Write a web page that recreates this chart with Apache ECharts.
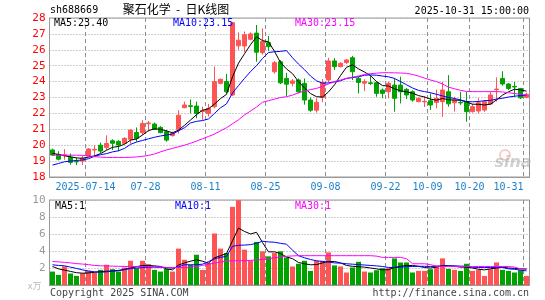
<!DOCTYPE html>
<html><head><meta charset="utf-8">
<script src="https://cdn.jsdelivr.net/npm/echarts@6/dist/echarts.min.js"></script>
<style>html,body{margin:0;padding:0;background:#fff}#c{width:545px;height:300px}</style>
</head><body><div id="c"></div>
<script>
const dates = ['2025-07-04','2025-07-07','2025-07-08','2025-07-09','2025-07-10','2025-07-11','2025-07-14','2025-07-15','2025-07-16','2025-07-17','2025-07-18','2025-07-21','2025-07-22','2025-07-23','2025-07-24','2025-07-25','2025-07-28','2025-07-29','2025-07-30','2025-07-31',
'2025-08-01','2025-08-04','2025-08-05','2025-08-06','2025-08-07','2025-08-08','2025-08-11','2025-08-12','2025-08-13','2025-08-14','2025-08-15','2025-08-18','2025-08-19','2025-08-20','2025-08-21','2025-08-22','2025-08-25','2025-08-26','2025-08-27','2025-08-28','2025-08-29',
'2025-09-01','2025-09-02','2025-09-03','2025-09-04','2025-09-05','2025-09-08','2025-09-09','2025-09-10','2025-09-11','2025-09-12','2025-09-15','2025-09-16','2025-09-17','2025-09-18','2025-09-19','2025-09-22','2025-09-23','2025-09-24','2025-09-25','2025-09-26','2025-09-29','2025-09-30',
'2025-10-09','2025-10-10','2025-10-13','2025-10-14','2025-10-15','2025-10-16','2025-10-17','2025-10-20','2025-10-21','2025-10-22','2025-10-23','2025-10-24','2025-10-27','2025-10-28','2025-10-29','2025-10-30','2025-10-31'];

const opens = [19.70,19.42,19.35,19.23,18.98,19.00,19.32,19.70,20.00,19.86,
20.28,20.24,20.11,20.37,20.80,20.79,21.35,21.33,21.12,20.85,
20.60,21.00,22.36,22.48,22.46,22.12,22.00,22.42,23.89,24.00,
23.16,26.25,26.24,26.66,27.05,25.82,26.45,24.62,25.25,24.20,
23.89,24.10,23.89,22.84,22.20,23.00,24.10,25.30,24.94,25.20,
25.50,24.20,23.90,23.92,23.93,23.47,23.36,23.78,23.78,23.51,
23.36,22.74,22.72,22.80,22.69,22.74,23.36,22.67,22.69,22.74,
22.11,22.15,22.21,22.59,23.49,24.20,23.85,23.70,23.57,23.01];

const closes = [19.38,19.12,19.40,18.92,18.95,19.17,19.76,19.74,19.63,20.11,
20.12,20.01,20.43,20.95,20.43,21.37,21.40,21.00,20.79,20.32,
20.75,21.88,22.53,22.44,22.00,22.18,22.32,24.00,24.14,23.36,
27.70,26.60,26.95,27.00,25.85,26.52,26.20,25.19,23.92,23.84,
24.04,23.36,22.84,22.20,22.70,23.95,25.30,24.94,25.15,25.36,
24.62,23.95,24.00,23.88,23.26,23.26,23.89,22.95,23.36,23.16,
22.84,22.95,22.76,22.53,22.95,23.47,22.60,22.84,22.66,22.11,
22.42,22.67,22.74,23.16,23.53,23.85,23.57,23.66,22.98,23.20];

const lows = [19.32,19.05,19.08,18.78,18.75,18.75,19.28,19.32,19.49,19.70,
19.70,19.62,20.07,20.10,20.22,20.64,20.85,20.95,20.75,20.22,
20.55,20.74,22.32,22.00,21.69,21.60,21.80,22.32,23.83,23.26,
23.10,26.00,25.85,26.60,25.25,25.70,25.92,24.50,23.85,23.10,
23.70,23.26,22.55,22.10,22.05,22.70,23.95,24.73,24.90,25.10,
24.10,23.26,23.40,23.78,23.05,22.95,22.95,22.11,22.63,22.90,
22.74,22.70,22.40,22.21,22.32,21.79,22.42,22.11,22.53,21.48,
22.05,22.00,22.10,22.53,22.74,23.74,23.47,23.05,22.90,22.95];

const highs = [19.78,19.62,19.75,19.48,19.22,19.32,19.82,20.00,20.16,20.62,
20.37,20.32,20.50,21.00,21.12,21.58,21.52,21.42,21.20,20.95,
20.85,22.20,22.74,22.88,22.74,22.42,22.60,24.94,24.20,24.48,
27.75,27.10,27.15,27.10,27.56,27.35,26.87,25.30,25.35,24.55,
24.16,24.20,24.20,23.00,22.95,24.16,25.50,25.48,25.22,25.42,
25.62,24.31,24.15,24.40,24.00,23.57,24.00,24.20,24.31,23.60,
23.45,23.00,23.10,23.26,23.50,23.98,24.41,23.05,23.36,23.36,
22.60,22.95,22.85,23.36,24.27,24.65,23.90,23.98,23.60,23.30];

const volumes = [1.58,1.19,2.20,1.35,1.07,1.39,1.66,1.47,1.78,2.38,
1.86,1.58,2.06,2.85,1.98,2.85,2.46,1.78,1.58,1.90,
1.58,4.28,2.97,2.38,3.56,1.78,2.60,6.06,4.28,3.76,
9.19,9.98,4.16,2.89,5.07,3.96,3.37,3.76,3.96,3.25,
2.18,2.50,2.85,1.66,2.85,2.85,3.84,2.30,2.18,1.47,
2.06,2.73,1.58,1.47,1.74,1.98,1.98,3.13,2.65,2.65,
1.47,1.66,1.66,1.86,2.30,3.13,1.90,1.78,1.66,2.50,
1.66,1.78,1.07,1.86,2.65,1.78,1.66,1.47,1.74,1.07];

const ma5 = [19.49,19.42,19.33,19.27,19.20,19.18,19.25,19.33,19.47,19.68,
19.87,19.92,20.06,20.32,20.39,20.64,20.92,21.03,21.00,20.90,
20.78,20.95,21.25,21.58,21.92,22.20,22.29,22.59,22.93,23.20,
24.30,25.16,25.75,26.32,26.82,26.58,26.50,25.90,25.20,24.80,
24.50,24.00,23.60,23.25,23.05,23.03,23.35,23.80,24.38,24.90,
25.05,24.80,24.60,24.38,24.00,23.75,23.72,23.55,23.42,23.36,
23.27,23.12,23.03,22.90,22.83,22.94,22.86,22.84,22.82,22.72,
22.58,22.57,22.53,22.58,22.85,23.15,23.36,23.52,23.48,23.40];

const ma10 = [18.75,18.85,18.96,19.00,19.04,19.07,19.15,19.30,19.40,19.47,
19.58,19.65,19.80,20.05,20.20,20.30,20.40,20.50,20.58,20.64,
20.70,20.90,21.10,21.40,21.50,21.55,21.65,22.00,22.35,22.60,
23.28,23.75,24.20,24.63,25.00,25.45,25.83,25.88,25.90,25.95,
25.50,25.10,24.75,24.35,24.05,23.90,23.92,23.98,24.05,24.20,
24.25,24.30,24.40,24.42,24.40,24.35,24.30,24.20,24.00,23.80,
23.60,23.45,23.37,23.30,23.20,23.10,23.00,22.94,22.85,22.75,
22.73,22.75,22.80,22.82,22.90,22.95,23.03,23.08,23.12,23.15];

const ma30 = [19.37,19.37,19.37,19.37,19.37,19.36,19.33,19.28,19.25,19.23,
19.23,19.23,19.23,19.24,19.26,19.30,19.36,19.45,19.58,19.70,
19.80,19.90,20.00,20.12,20.26,20.40,20.55,20.70,20.90,21.10,
21.35,21.60,21.90,22.15,22.40,22.70,22.80,22.90,23.00,23.05,
23.15,23.30,23.40,23.50,23.57,23.70,23.85,24.00,24.10,24.20,
24.28,24.35,24.45,24.50,24.53,24.56,24.56,24.55,24.54,24.52,
24.45,24.35,24.22,24.10,24.00,23.85,23.65,23.55,23.45,23.38,
23.37,23.37,23.37,23.37,23.37,23.35,23.30,23.25,23.20,23.15];

const volMa5 = [2.18,1.90,1.75,1.60,1.45,1.39,1.42,1.50,1.58,1.62,
1.66,1.72,1.85,1.98,2.15,2.30,2.30,2.25,2.18,1.90,
1.78,2.35,2.60,2.80,2.97,2.80,2.57,3.20,3.45,3.70,
5.20,6.70,6.30,6.00,6.20,5.00,3.90,3.90,3.70,3.30,
3.10,2.65,2.50,2.38,2.40,2.60,2.77,2.77,2.60,2.30,
2.20,2.15,2.10,2.00,1.90,1.78,1.80,2.06,2.20,2.30,
2.30,2.20,2.06,2.00,2.10,2.30,2.25,2.20,2.10,2.10,
2.00,1.85,1.78,1.90,2.00,2.10,2.00,1.95,1.90,1.86];

const volMa10 = [2.38,2.30,2.26,2.10,1.95,1.78,1.65,1.55,1.50,1.55,
1.62,1.68,1.80,1.95,2.00,2.05,2.10,2.10,2.08,2.06,
1.98,2.15,2.38,2.38,2.38,2.45,2.75,3.09,3.25,3.37,
4.55,4.67,4.70,4.75,4.90,5.15,5.07,5.03,4.90,4.80,
4.10,3.45,3.20,3.00,2.85,2.77,2.70,2.60,2.57,2.50,
2.45,2.40,2.35,2.30,2.25,2.18,2.06,2.06,2.10,2.15,
2.18,2.20,2.20,2.18,2.20,2.25,2.26,2.26,2.22,2.20,
2.10,2.06,2.06,2.06,2.06,2.06,1.90,1.85,1.75,1.66];

const volMa30 = [2.77,2.72,2.66,2.60,2.52,2.46,2.40,2.30,2.26,2.24,
2.22,2.20,2.18,2.18,2.18,2.18,2.18,2.16,2.12,2.06,
2.06,2.06,2.06,2.10,2.18,2.30,2.45,2.57,2.70,2.80,
2.85,2.85,2.85,2.90,2.95,3.00,3.10,3.20,3.30,3.38,
3.42,3.45,3.45,3.45,3.45,3.45,3.45,3.45,3.45,3.45,
3.45,3.45,3.45,3.45,3.40,3.25,3.25,3.25,3.25,3.10,
2.50,2.50,2.50,2.40,2.20,2.18,2.18,2.18,2.18,2.18,
2.18,2.18,2.18,2.18,2.18,2.18,2.18,2.10,1.90,1.90];

const tickDates = ['2025-07-14','2025-07-28','2025-08-11','2025-08-25','2025-09-08','2025-09-22','2025-10-09','2025-10-20','2025-10-31'];
const tickLabels = ['2025-07-14','07-28','08-11','08-25','09-08','09-22','10-09','10-20','10-31'];
const priceTicks = [18, 28, 1];
const volTicks = [0, 10, 2];

const FONT = '"DejaVu Sans Mono", "Liberation Mono", monospace';
const RED = '#ff5454', GREEN = '#00a200';
const GRIDC = '#a0a0a0', VGRID = '#8c8c8c', BORDER = '#9a9a9a', XLAB = '#1e80c8';
const tickIdx = tickDates.map(d => dates.indexOf(d));
const tickSet = new Set(tickIdx);
const last = dates.length - 1;

const chart = echarts.init(document.getElementById('c'), null, {renderer: 'canvas', width: 545, height: 300});

function txt(text, x, y, color, opts) {
  opts = opts || {};
  return {type: 'text', x: x, y: y, z: 100, silent: true,
    style: {text: text, fill: color, font: (opts.font || ('10px ' + FONT)),
      align: opts.align || 'left', verticalAlign: 'middle'}};
}

const xCat = (grid, showLabel) => ({
  type: 'category', gridIndex: grid, data: dates, boundaryGap: true,
  axisLine: {show: true, lineStyle: {color: BORDER, width: 1}},
  axisTick: {show: false},
  splitLine: {show: true, interval: (i) => tickSet.has(i), lineStyle: {color: VGRID, width: 1, type: [4, 3]}},
  axisLabel: showLabel ? {
    show: true, interval: (i) => tickSet.has(i), color: XLAB, fontFamily: FONT, fontSize: 10,
    margin: 5, padding: [0, 6, 0, 0],
    formatter: (v) => {
      const k = tickDates.indexOf(v);
      if (k < 0) return '';
      return k === tickLabels.length - 1 ? '{e|' + tickLabels[k] + '}' : tickLabels[k];
    },
    rich: {e: {padding: [0, 30, 0, 0], color: XLAB, fontFamily: FONT, fontSize: 10}}
  } : {show: false}
});

// vertical dashed grid lines at the left edge of each labelled day (custom series on the category axis)
const vGrid = (xi, yi, yMin) => ({
  type: 'custom', xAxisIndex: xi, yAxisIndex: yi, silent: true, clip: false, z: 4,
  data: tickIdx.map(i => [i, yMin]),
  encode: {x: 0, y: 1},
  renderItem: (params, api) => {
    const cx = api.coord([api.value(0), api.value(1)])[0];
    const band = api.size([1, 0])[0];
    const x = Math.floor(cx - band / 2) + 0.5;
    const cs = params.coordSys;
    return {type: 'line', silent: true,
      shape: {x1: x, y1: cs.y, x2: x, y2: cs.y + cs.height},
      style: {stroke: VGRID, lineWidth: 1, lineDash: [4, 3], fill: null}};
  }
});

const option = {
  animation: false,
  backgroundColor: '#ffffff',
  grid: [
    {left: 49.5, width: 480, top: 18, height: 159, show: true, borderColor: BORDER, borderWidth: 1, backgroundColor: 'transparent'},
    {left: 49.5, width: 480, top: 200, height: 85, show: true, borderColor: BORDER, borderWidth: 1, backgroundColor: 'transparent'}
  ],
  xAxis: [xCat(0, true), xCat(1, false)],
  yAxis: [
    {type: 'value', gridIndex: 0, min: priceTicks[0], max: priceTicks[1], interval: priceTicks[2],
     axisLine: {show: true, lineStyle: {color: BORDER}}, axisTick: {show: false},
     axisLabel: {color: '#ff0000', fontFamily: FONT, fontSize: 11, margin: 4},
     splitLine: {show: true, lineStyle: {color: GRIDC, width: 1, type: [1, 2]}}},
    {type: 'value', gridIndex: 1, min: volTicks[0], max: volTicks[1], interval: volTicks[2],
     axisLine: {show: true, lineStyle: {color: BORDER}}, axisTick: {show: false},
     axisLabel: {color: '#9a9a9a', fontFamily: FONT, fontSize: 11, margin: 4, formatter: (v) => v === 0 ? '' : String(v)},
     splitLine: {show: true, lineStyle: {color: GRIDC, width: 1, type: [1, 2]}}}
  ],
  series: [
    vGrid(0, 0, priceTicks[0]),
    vGrid(1, 1, volTicks[0]),
    {type: 'candlestick', xAxisIndex: 0, yAxisIndex: 0, barWidth: 5, z: 3,
     data: opens.map((o, i) => [o, closes[i], lows[i], highs[i]]),
     itemStyle: {color: RED, color0: GREEN, borderColor: RED, borderColor0: GREEN, borderWidth: 1}},
    {type: 'line', name: 'MA5', xAxisIndex: 0, yAxisIndex: 0, data: ma5, symbol: 'none', z: 5, lineStyle: {color: '#000000', width: 1}},
    {type: 'line', name: 'MA10', xAxisIndex: 0, yAxisIndex: 0, data: ma10, symbol: 'none', z: 5, lineStyle: {color: '#0000ff', width: 1}},
    {type: 'line', name: 'MA30', xAxisIndex: 0, yAxisIndex: 0, data: ma30, symbol: 'none', z: 5, lineStyle: {color: '#ff00ff', width: 1}},
    {type: 'bar', xAxisIndex: 1, yAxisIndex: 1, data: volumes, barWidth: 5, z: 3,
     itemStyle: {color: (p) => closes[p.dataIndex] >= opens[p.dataIndex] ? RED : GREEN}},
    {type: 'line', xAxisIndex: 1, yAxisIndex: 1, data: volMa5, symbol: 'none', z: 5, lineStyle: {color: '#000000', width: 1}},
    {type: 'line', xAxisIndex: 1, yAxisIndex: 1, data: volMa10, symbol: 'none', z: 5, lineStyle: {color: '#0000ff', width: 1}},
    {type: 'line', xAxisIndex: 1, yAxisIndex: 1, data: volMa30, symbol: 'none', z: 5, lineStyle: {color: '#ff00ff', width: 1}}
  ],
  graphic: [
    txt('sh688669', 50, 10.5, '#000'),
    txt('聚石化学  -  日K线图', 176, 9.5, '#000', {align: 'center', font: '12px "Noto Sans CJK SC"'}),
    txt(dates[last] + ' 15:00:00', 529, 11.5, '#000', {align: 'right'}),
    txt('MA5:' + ma5[last].toFixed(2), 54, 23.5, '#000'),
    txt('MA10:' + ma10[last].toFixed(2), 173, 23.5, '#0000ff'),
    txt('MA30:' + ma30[last].toFixed(2), 295, 23.5, '#ff00ff'),
    txt('MA5:' + Math.floor(volMa5[last]), 55, 206.5, '#000'),
    txt('MA10:' + Math.floor(volMa10[last]), 175, 206.5, '#0000ff'),
    txt('MA30:' + Math.floor(volMa30[last]), 295, 206.5, '#ff00ff'),
    txt('x万', 28, 286, '#b8b8b8', {font: '9px "Noto Sans CJK SC"'}),
    txt('Copyright 2025 SINA.COM', 50, 293, '#444'),
    txt('http://finance.sina.com.cn', 529, 293, '#444', {align: 'right'}),
    {type: 'circle', z: 1, silent: true, shape: {cx: 505, cy: 155, r: 5}, style: {fill: 'none', stroke: 'rgba(240,140,140,0.45)', lineWidth: 2}},
    txt('sina', 513, 163, 'rgba(170,170,170,0.55)', {align: 'center', font: 'italic bold 16px "DejaVu Sans"'})
  ]
};
chart.setOption(option);
</script>
</body></html>
